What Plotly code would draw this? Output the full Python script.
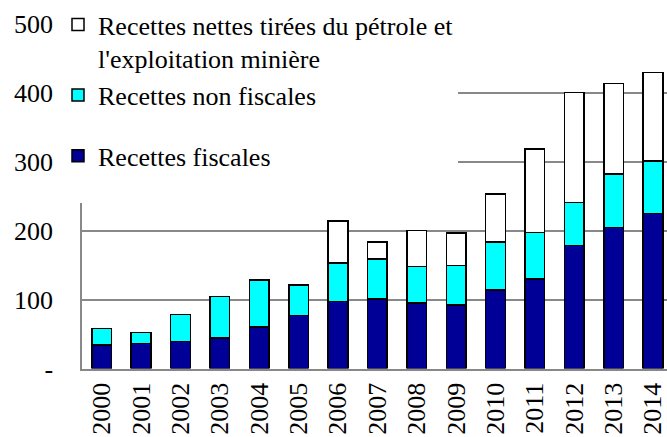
import plotly.graph_objects as go

years = [str(y) for y in range(2000, 2015)]
recettes_fiscales = [34, 36, 39, 44.5, 60, 76.5, 97, 101, 95, 92, 114, 129.5, 178.5, 204.5, 225]
recettes_non_fiscales = [24, 16, 39, 59.5, 68.5, 44.5, 56, 58, 52.5, 57, 69, 67.5, 62, 77.5, 76]
recettes_petrole = [None, None, None, None, None, None, 61, 24, 52.5, 47.5, 70, 121, 159.5, 131, 128]
y_tickvals = [0, 100, 200, 300, 400, 500]
y_ticktext = ["-", "100", "200", "300", "400", "500"]

FONT = "Times New Roman"
GRID = "#888888"
W, H = 667, 437
PLOT_L, PLOT_R, PLOT_T, PLOT_B = 82, 667, 23.5, 368.5


def px_x(p):
    return p / W


def px_y(p):
    return 1 - p / H


fig = go.Figure()
fig.add_trace(go.Bar(x=years, y=recettes_fiscales, name="Recettes fiscales",
                     legendgroup="b", legendrank=3, width=0.5,
                     marker=dict(color="#000096", line=dict(color="black", width=1.5))))
fig.add_trace(go.Bar(x=years, y=recettes_non_fiscales, name="Recettes non fiscales",
                     legendgroup="a", legendrank=2, width=0.5,
                     marker=dict(color="#00FFFF", line=dict(color="black", width=1.5))))
fig.add_trace(go.Bar(x=years, y=recettes_petrole,
                     name="Recettes nettes tirées du pétrole et<br>l'exploitation minière",
                     legendgroup="a", legendrank=1, width=0.5,
                     marker=dict(color="#FFFFFF", line=dict(color="black", width=1.5))))

fig.update_layout(
    width=W, height=H,
    margin=dict(l=0, r=0, t=0, b=0, pad=0, autoexpand=False),
    barmode="stack",
    plot_bgcolor="white", paper_bgcolor="white",
    font=dict(family=FONT, size=26, color="black"),
    showlegend=True,
    legend=dict(
        x=px_x(58), y=px_y(1), xanchor="left", yanchor="top",
        traceorder="grouped", tracegroupgap=24,
        bgcolor="rgba(0,0,0,0)", borderwidth=0,
        font=dict(family=FONT, size=26, color="black"),
        valign="top", itemwidth=30,
    ),
    xaxis=dict(
        domain=[px_x(PLOT_L), px_x(PLOT_R)],
        type="category", range=[-0.5, 14.355],
        tickangle=-90, showgrid=False,
        showline=True, linecolor=GRID, linewidth=1.5,
        ticks="", ticklabelstandoff=2,
        tickfont=dict(family=FONT, size=26, color="black"),
        fixedrange=True,
    ),
    yaxis=dict(
        domain=[px_y(PLOT_B), px_y(PLOT_T)],
        range=[0, 500], tickmode="array", tickvals=y_tickvals, ticktext=y_ticktext,
        showgrid=True, gridcolor=GRID, gridwidth=1.5,
        showline=True, linecolor=GRID, linewidth=1.5,
        zeroline=False, ticks="", ticklabelstandoff=22,
        tickfont=dict(family=FONT, size=26, color="black"),
        fixedrange=True,
    ),
    shapes=[dict(type="rect", xref="paper", yref="paper",
                 x0=px_x(70), x1=px_x(458), y0=px_y(203), y1=px_y(0),
                 fillcolor="white", line=dict(width=0), layer="above")],
)

fig.write_html(
    "out.html",
    config={"displayModeBar": False},
    post_script="document.body.style.margin='0';document.body.style.overflow='hidden';",
)
